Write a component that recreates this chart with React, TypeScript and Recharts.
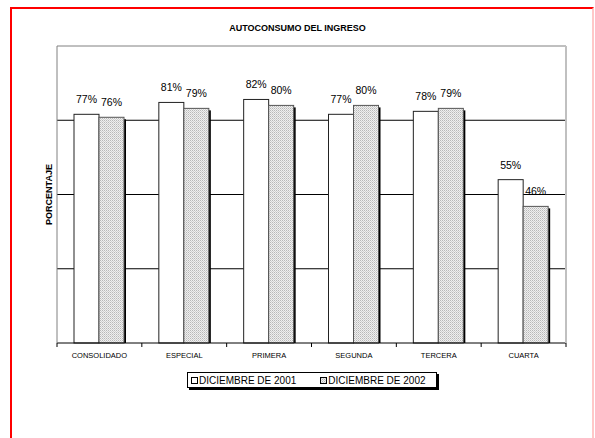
import { BarChart, Bar, XAxis, YAxis, CartesianGrid, ReferenceLine, LabelList } from "recharts";

const categories = ["CONSOLIDADO", "ESPECIAL", "PRIMERA", "SEGUNDA", "TERCERA", "CUARTA"];
const dic2001 = [77, 81, 82, 77, 78, 55];
const dic2002 = [76, 79, 80, 80, 79, 46];
const seriesNames = ["DICIEMBRE DE 2001", "DICIEMBRE DE 2002"];
const yTicks = [0, 25, 50, 75, 100];

const data = categories.map((c, i) => ({ name: c, d2001: dic2001[i], d2002: dic2002[i] }));

const FONT = "'Liberation Sans', Arial, sans-serif";

// white bar with thin dark outline
const PlainBar = (props: any) => {
  const { x, y, width, height } = props;
  if (!height) return null;
  return <rect x={x} y={y} width={width} height={height} fill="#fff" stroke="#222" strokeWidth={1} />;
};

// dotted bar with black shadow on the right
const DottedBar = (props: any) => {
  const { x, y, width, height } = props;
  if (!height) return null;
  return (
    <g>
      <rect x={x + 2} y={y + 2} width={width} height={height - 2} fill="#000" />
      <rect x={x} y={y} width={width} height={height} fill="url(#dots)" stroke="#555" strokeWidth={1} />
    </g>
  );
};

const CatTick = (props: any) => {
  const { x, y, payload, index } = props;
  const half = payload.offset ?? 0;
  return (
    <g>
      <line x1={x - half} y1={y - 8} x2={x - half} y2={y - 4} stroke="#000" />
      {index === categories.length - 1 && (
        <line x1={x + half} y1={y - 8} x2={x + half} y2={y - 4} stroke="#000" />
      )}
      <text x={x} y={y + 7} textAnchor="middle" fontSize={7.5} fontFamily={FONT} fill="#000">
        {payload.value}
      </text>
    </g>
  );
};

// y axis has no visible tick labels, but ticks must exist for the grid
const NoTick = () => <g />;

const LegendBox = () => (
  <div
    style={{
      position: "absolute",
      left: 187,
      top: 372,
      width: 248,
      height: 14,
      border: "1px solid #000",
      boxShadow: "2px 2px 0 #000",
      background: "#fff",
      display: "flex",
      alignItems: "center",
      fontFamily: FONT,
      fontSize: 10,
      color: "#000",
    }}
  >
    {seriesNames.map((n, i) => (
      <span key={n} style={{ display: "flex", alignItems: "center", marginLeft: i === 0 ? 3 : 24 }}>
        <svg width={7} height={7} style={{ marginRight: 1 }}>
          <rect x={0.5} y={0.5} width={6} height={6} fill={i === 0 ? "#fff" : "url(#dots)"} stroke="#000" />
        </svg>
        {n}
      </span>
    ))}
  </div>
);

export default function App() {
  return (
    <div style={{ position: "fixed", left: 0, top: 0, width: 595, height: 438, overflow: "hidden", background: "#fff" }}>
      <svg width={0} height={0} style={{ position: "absolute" }}>
        <defs>
          <pattern id="dots" width={2} height={2} patternUnits="userSpaceOnUse">
            <rect width={2} height={2} fill="#efefef" />
            <rect width={1} height={1} fill="#b8b8b8" />
            <rect x={1} y={1} width={1} height={1} fill="#d0d0d0" />
          </pattern>
        </defs>
      </svg>
      <div
        style={{
          position: "absolute",
          left: 10,
          top: 7,
          width: 580,
          height: 500,
          borderTop: "2px solid #f00",
          borderLeft: "2px solid #f00",
          borderRight: "2px solid #ffc8c8",
        }}
      />
      <div
        style={{
          position: "absolute",
          left: 0,
          width: 595,
          top: 23,
          textAlign: "center",
          fontFamily: FONT,
          fontWeight: "bold",
          fontSize: 9,
        }}
      >
        AUTOCONSUMO DEL INGRESO
      </div>
      <div style={{ position: "absolute", left: 0, top: 0 }}>
        <BarChart
          width={595}
          height={438}
          data={data}
          margin={{ top: 46, left: 56, right: 28, bottom: 75 }}
          barSize={25}
          barGap={0}
        >
          <CartesianGrid horizontal vertical={false} stroke="#000" horizontalValues={[25, 50, 75]} />
          <XAxis dataKey="name" axisLine={{ stroke: "#000" }} tickLine={false} tick={<CatTick />} interval={0} height={20} />
          <YAxis
            domain={[0, 100]}
            ticks={yTicks}
            width={1}
            tick={NoTick}
            tickLine={false}
            axisLine={{ stroke: "#808080" }}
            label={{
              value: "PORCENTAJE",
              angle: -90,
              position: "left",
              offset: 7,
              textAnchor: "middle",
              style: { fontSize: 9, fontWeight: "bold", fontFamily: FONT, fill: "#000", textAnchor: "middle" },
            }}
          />
          <YAxis
            yAxisId="r"
            orientation="right"
            domain={[0, 100]}
            width={1}
            tick={false}
            tickLine={false}
            axisLine={{ stroke: "#c0c0c0", strokeWidth: 2 }}
          />
          <ReferenceLine y={100} stroke="#808080" />
          <Bar dataKey="d2001" name={seriesNames[0]} shape={<PlainBar />} isAnimationActive={false}>
            <LabelList
              dataKey="d2001"
              position="top"
              offset={11}
              formatter={(v: any) => `${v}%`}
              style={{ fontSize: 10.5, fontFamily: FONT, fill: "#000" }}
            />
          </Bar>
          <Bar dataKey="d2002" name={seriesNames[1]} shape={<DottedBar />} isAnimationActive={false}>
            <LabelList
              dataKey="d2002"
              position="top"
              offset={11}
              formatter={(v: any) => `${v}%`}
              style={{ fontSize: 10.5, fontFamily: FONT, fill: "#000" }}
            />
          </Bar>
        </BarChart>
      </div>
      <LegendBox />
    </div>
  );
}
